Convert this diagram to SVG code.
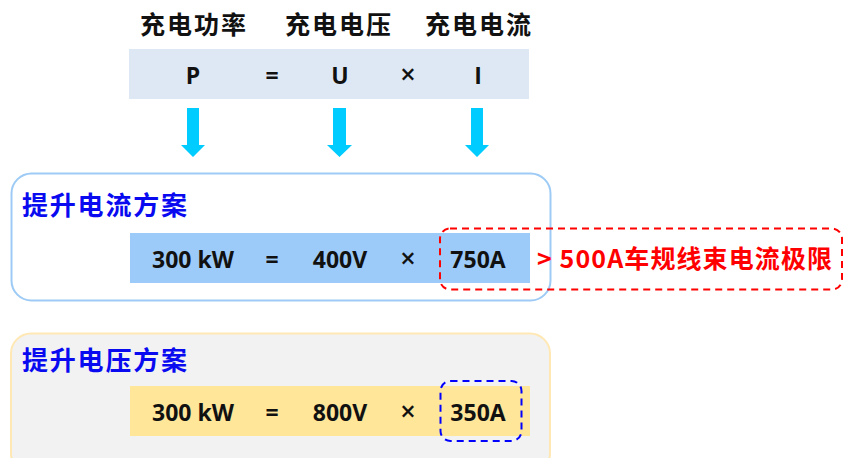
<svg xmlns="http://www.w3.org/2000/svg" width="847" height="458" viewBox="0 0 847 458">
<style>
.cjk{font-family:"Noto Sans CJK SC","Noto Sans",sans-serif;font-weight:bold}
.hd{font-size:25px;fill:#111}
.ttl{font-size:26px;fill:#0A0AF0}
.eq{font-family:"Open Sans","Liberation Sans",sans-serif;font-weight:bold;font-size:23px;fill:#111;text-anchor:middle;dominant-baseline:central}
.x{font-size:27px;font-weight:600}
.arr{fill:#00CCFF}
</style>
<rect width="847" height="458" fill="#FFFFFF"/>
<g id="header">
<text class="cjk hd" x="140" y="34" textLength="106">充电功率</text>
<text class="cjk hd" x="285" y="34" textLength="106">充电电压</text>
<text class="cjk hd" x="425" y="34" textLength="106">充电电流</text>
</g>
<g id="formula">
<rect x="129" y="49" width="400" height="50" fill="#DEE8F4"/>
<text class="eq" x="193" y="75">P</text>
<text class="eq" x="272" y="75">=</text>
<text class="eq" x="340" y="75">U</text>
<text class="eq x" x="408" y="73">×</text>
<text class="eq" x="478" y="75">I</text>
</g>
<g id="connectors">
<polygon class="arr" points="187,108 199,108 199,145 205,145 193,157 181,145 187,145"/>
<polygon class="arr" points="333,108 346,108 346,145 352,145 339.5,157 327,145 333,145"/>
<polygon class="arr" points="471,108 483,108 483,145 489,145 477,157 465,145 471,145"/>
</g>
<g id="current-plan">
<rect x="11.5" y="173.5" width="539" height="127" rx="20" fill="#FFFFFF" stroke="#9DCBF5" stroke-width="2"/>
<text class="cjk ttl" x="22" y="215" textLength="165">提升电流方案</text>
<rect x="130" y="233" width="400" height="50" fill="#9DCBF9"/>
<text class="eq" x="193" y="259">300 kW</text>
<text class="eq" x="272" y="259">=</text>
<text class="eq" x="340" y="259">400V</text>
<text class="eq x" x="408" y="257">×</text>
<text class="eq" x="478" y="259">750A</text>
</g>
<g id="limit">
<rect x="440" y="228.5" width="402" height="61" rx="10" fill="none" stroke="#FF0000" stroke-width="2" stroke-dasharray="7,5"/>
<text class="cjk" x="537" y="268" font-size="25" fill="#FF0000" textLength="295">&gt; 500A车规线束电流极限</text>
</g>
<g id="voltage-plan">
<rect x="11" y="333.5" width="539" height="140" rx="20" fill="#F2F2F2" stroke="#FFE8B3" stroke-width="2"/>
<text class="cjk ttl" x="22" y="370" textLength="165">提升电压方案</text>
<rect x="130" y="386" width="400" height="50" fill="#FFE699"/>
<text class="eq" x="193" y="412">300 kW</text>
<text class="eq" x="272" y="412">=</text>
<text class="eq" x="340" y="412">800V</text>
<text class="eq x" x="408" y="410">×</text>
<text class="eq" x="478" y="412">350A</text>
<rect x="440.5" y="381" width="81" height="60" rx="10" fill="none" stroke="#0000FF" stroke-width="2" stroke-dasharray="7,5"/>
</g>
</svg>
